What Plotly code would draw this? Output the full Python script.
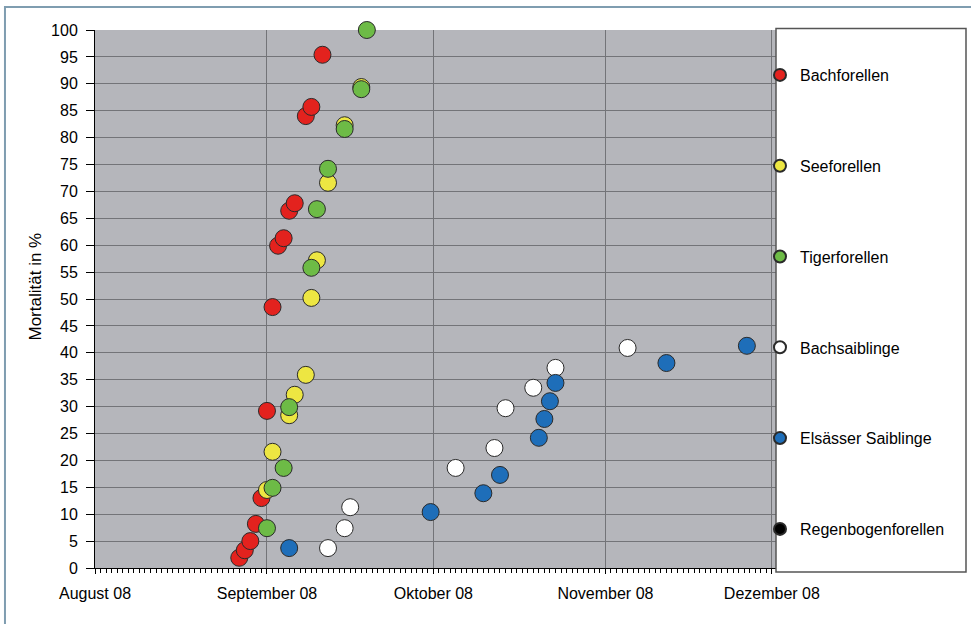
import plotly.graph_objects as go

# ---- data ----
bach_dates = ["2008-08-27", "2008-08-28", "2008-08-29", "2008-08-30", "2008-08-31",
              "2008-09-01", "2008-09-02", "2008-09-03", "2008-09-04", "2008-09-05",
              "2008-09-06", "2008-09-08", "2008-09-09", "2008-09-11"]
bach_vals = [1.9, 3.3, 5.0, 8.2, 13.0, 29.2, 48.5, 59.9, 61.3, 66.4, 67.8, 84.0, 85.7, 95.4]

see_dates = ["2008-09-01", "2008-09-02", "2008-09-05", "2008-09-06", "2008-09-08",
             "2008-09-09", "2008-09-10", "2008-09-12", "2008-09-15", "2008-09-18"]
see_vals = [14.5, 21.6, 28.4, 32.2, 35.9, 50.2, 57.2, 71.6, 82.3, 89.4]

tiger_dates = ["2008-09-01", "2008-09-02", "2008-09-04", "2008-09-05", "2008-09-09",
               "2008-09-10", "2008-09-12", "2008-09-15", "2008-09-18", "2008-09-19"]
tiger_vals = [7.4, 14.9, 18.6, 29.9, 55.8, 66.7, 74.2, 81.6, 89.0, 100.0]

bs_dates = ["2008-09-12", "2008-09-15", "2008-09-16", "2008-10-05", "2008-10-12",
            "2008-10-14", "2008-10-19", "2008-10-23", "2008-11-05"]
bs_vals = [3.7, 7.4, 11.3, 18.6, 22.3, 29.7, 33.5, 37.2, 40.9]

els_dates = ["2008-09-05", "2008-09-30 12:00", "2008-10-10", "2008-10-13", "2008-10-20",
             "2008-10-21", "2008-10-22", "2008-10-23", "2008-11-12", "2008-11-26 12:00"]
els_vals = [3.7, 10.4, 13.9, 17.3, 24.2, 27.7, 31.0, 34.4, 38.1, 41.3]

regen_dates = []
regen_vals = []

month_ticks = ["2008-08-01", "2008-09-01", "2008-10-01", "2008-11-01", "2008-12-01"]
month_labels = ["August 08", "September 08", "Oktober 08", "November 08", "Dezember 08"]

y_title = "Mortalität in %"

series = [
    ("Bachforellen", bach_dates, bach_vals, "#E3221E"),
    ("Seeforellen", see_dates, see_vals, "#EDE642"),
    ("Tigerforellen", tiger_dates, tiger_vals, "#6DBB46"),
    ("Bachsaiblinge", bs_dates, bs_vals, "#FFFFFF"),
    ("Elsässer Saiblinge", els_dates, els_vals, "#1E6EB9"),
    ("Regenbogenforellen", regen_dates, regen_vals, "#000000"),
]

fig = go.Figure()
for i, (name, xs, ys, col) in enumerate(series):
    fig.add_trace(go.Scatter(
        x=xs if xs else [None], y=ys if ys else [None],
        mode="markers", name=name, legendgroup=f"g{i}",
        cliponaxis=False,
        marker=dict(size=17, color=col, line=dict(color="#2a2a2a", width=1)),
    ))

fig.update_layout(
    width=971, height=624,
    margin=dict(l=95, r=195, t=30, b=56),
    plot_bgcolor="#B5B6BB", paper_bgcolor="white",
    font=dict(family="Liberation Sans, Arial, sans-serif", size=16, color="black"),
    showlegend=True,
    legend=dict(x=0.9765, y=0.948, xanchor="left", yanchor="top",
                bgcolor="rgba(0,0,0,0)", tracegroupgap=67, itemsizing="constant",
                font=dict(size=16)),
    shapes=[
        dict(type="rect", xref="paper", yref="paper",
             x0=-0.1322, x1=1.33, y0=-0.25, y1=1.0428,
             line=dict(color="#7F9DB0", width=2), fillcolor="rgba(0,0,0,0)"),
        dict(type="rect", xref="paper", yref="paper",
             x0=1.0, x1=1.279, y0=-0.0074, y1=1.0028,
             line=dict(color="#555555", width=1.5), fillcolor="rgba(0,0,0,0)"),
    ],
    annotations=[
        dict(text=y_title, xref="paper", yref="paper", x=-0.0875, y=0.524,
             xanchor="center", yanchor="middle", textangle=-90, showarrow=False,
             font=dict(size=17, color="black")),
    ],
)

fig.update_yaxes(
    range=[0, 100], dtick=5, tick0=0,
    showgrid=True, gridcolor="#737478", gridwidth=1,
    showline=True, linecolor="black", linewidth=1,
    ticks="outside", ticklen=8, tickcolor="black",
    ticklabelstandoff=5,
    zeroline=False,
    tickfont=dict(size=16),
)
fig.update_xaxes(
    type="date", range=["2008-08-01", "2008-12-01 18:00"],
    tickmode="array", tickvals=month_ticks, ticktext=month_labels,
    showgrid=True, gridcolor="#737478", gridwidth=1,
    showline=True, linecolor="black", linewidth=1,
    ticks="outside", ticklen=5, tickcolor="black",
    ticklabelstandoff=6,
    minor=dict(dtick=86400000, tick0="2008-08-01", ticks="outside", ticklen=4,
               tickcolor="black", showgrid=False),
    tickfont=dict(size=16),
    zeroline=False,
)

fig.write_html("out.html", config={"displayModeBar": False},
               post_script="document.body.style.margin='0px';")
